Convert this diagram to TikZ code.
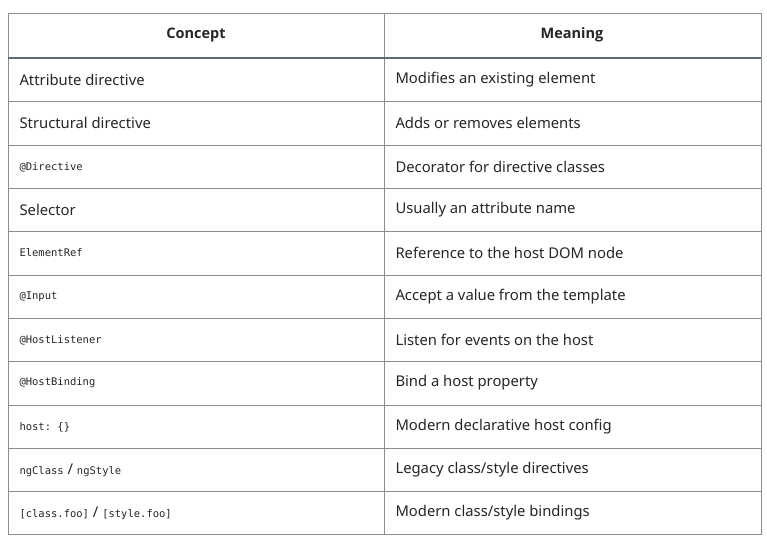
\documentclass[tikz,border=0pt]{standalone}
\usepackage{fontspec}
\setmainfont{Noto Sans}
\newfontfamily\hdfont{Open Sans}
\setmonofont{DejaVu Sans Mono}
\definecolor{hline}{HTML}{5F6B7A}
\begin{document}
\begin{tikzpicture}[x=1pt,y=-1pt,
  grid/.style={draw=black!45,line width=0.9pt},
  hd/.style={font=\hdfont\fontsize{14.5}{16}\selectfont\bfseries,text=black!85,anchor=center},
  cell/.style={font=\fontsize{14.8}{16}\selectfont,text=black!85,anchor=west},
  code/.style={font=\fontsize{10.5}{12}\ttfamily,text=black!85,anchor=west}]
\useasboundingbox (0,0) rectangle (767,540);
\fill[white] (0,0) rectangle (767,540);
\def\rows{58,101,145,188,231,275,318,361,405,448,491}
\foreach \y in \rows {\draw[grid] (8,\y) -- (761,\y);}
\draw[grid] (8,13) rectangle (761,534);
\draw[grid] (384,13) -- (384,534);
\draw[draw=hline,line width=2.2pt] (8,58) -- (761,58);
\node[hd] (h1) at (196,35) {Concept};
\node[hd] (h2) at (572,35) {Meaning};
\node[cell] (c1) at (16,80) {Attribute directive};
\node[cell] (m1) at (392,80) {Modifies an existing element};
\node[cell] (c2) at (16,123) {Structural directive};
\node[cell] (m2) at (392,123) {Adds or removes elements};
\node[code] (c3) at (16,167) {@Directive};
\node[cell] (m3) at (392,167) {Decorator for directive classes};
\node[cell] (c4) at (16,210) {Selector};
\node[cell] (m4) at (392,210) {Usually an attribute name};
\node[code] (c5) at (16,253) {ElementRef};
\node[cell] (m5) at (392,253) {Reference to the host DOM node};
\node[code] (c6) at (16,297) {@Input};
\node[cell] (m6) at (392,297) {Accept a value from the template};
\node[code] (c7) at (16,340) {@HostListener};
\node[cell] (m7) at (392,340) {Listen for events on the host};
\node[code] (c8) at (16,383) {@HostBinding};
\node[cell] (m8) at (392,383) {Bind a host property};
\node[code] (c9) at (16,427) {host: \{\}};
\node[cell] (m9) at (392,427) {Modern declarative host config};
\node[cell] (c10) at (16,470) {{\fontsize{10.5}{12}\ttfamily ngClass} / {\fontsize{10.5}{12}\ttfamily ngStyle}};
\node[cell] (m10) at (392,470) {Legacy class/style directives};
\node[cell] (c11) at (16,513) {{\fontsize{10.5}{12}\ttfamily [class.foo]} / {\fontsize{10.5}{12}\ttfamily [style.foo]}};
\node[cell] (m11) at (392,513) {Modern class/style bindings};
\end{tikzpicture}
\end{document}
